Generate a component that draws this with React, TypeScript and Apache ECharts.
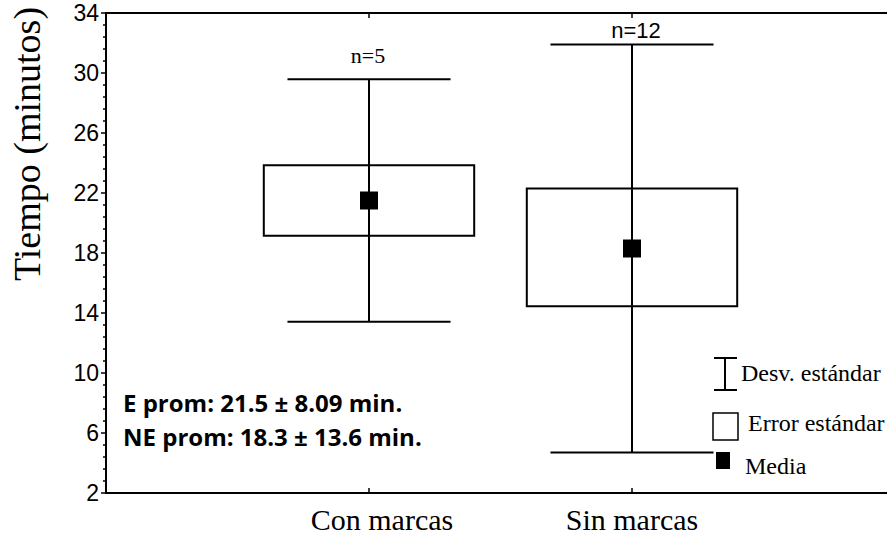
import React, { useEffect, useRef } from 'react';
import * as echarts from 'echarts';

// ---- data ----
const categories = ['Con marcas', 'Sin marcas'];
const means = [21.5, 18.3];
const sdLow = [13.41, 4.7];
const sdHigh = [29.59, 31.9];
const seLow = [19.15, 14.45];
const seHigh = [23.85, 22.3];
const nLabels = ['n=5', 'n=12'];
const yMin = 2;
const yMax = 34;
const yStep = 4;
const annotations = ['E prom: 21.5 \u00b1 8.09 min.', 'NE prom: 18.3 \u00b1 13.6 min.'];
const legendLabels = ['Desv. est\u00e1ndar', 'Error est\u00e1ndar', 'Media'];
const yTitle = 'Tiempo (minutos)';

// label styling per category (the reference uses different fonts for the n labels)
const nLabelFonts = ['Liberation Serif', 'Liberation Sans'];
const nLabelGap = [24, 14];
const nLabelDx = [-1, 4];
const catLabelShift = [26, 0];

const SERIF = 'Liberation Serif';
const SANS = 'Liberation Sans';
const INK = '#000000';

export default function App() {
  const ref = useRef<HTMLDivElement>(null);

  useEffect(() => {
    document.body.style.margin = '0';
    const chart = echarts.init(ref.current!, undefined, { renderer: 'svg' });

    const data = categories.map((c, i) => [i + 1, means[i], sdLow[i], sdHigh[i], seLow[i], seHigh[i], i]);

    const renderItem = (params: any, api: any) => {
      const x = api.value(0);
      const idx = api.value(6);
      const m = api.coord([x, api.value(1)]);
      const sl = api.coord([x, api.value(2)]);
      const sh = api.coord([x, api.value(3)]);
      const el = api.coord([x, api.value(4)]);
      const eh = api.coord([x, api.value(5)]);
      const unit = api.size([1, 0])[0];
      const boxHalf = unit * 0.4;
      const capHalf = unit * 0.31;
      const cx = m[0];
      const ls = { stroke: INK, lineWidth: 2 };
      return {
        type: 'group',
        children: [
          {
            type: 'rect',
            shape: { x: cx - boxHalf, y: eh[1], width: boxHalf * 2, height: el[1] - eh[1] },
            style: { fill: 'none', stroke: INK, lineWidth: 2 },
          },
          { type: 'line', shape: { x1: cx, y1: sh[1], x2: cx, y2: sl[1] }, style: ls },
          { type: 'line', shape: { x1: cx - capHalf, y1: sh[1], x2: cx + capHalf, y2: sh[1] }, style: ls },
          { type: 'line', shape: { x1: cx - capHalf, y1: sl[1], x2: cx + capHalf, y2: sl[1] }, style: ls },
          {
            type: 'rect',
            shape: { x: cx - 9, y: m[1] - 9, width: 18, height: 18 },
            style: { fill: INK },
          },
          {
            type: 'text',
            style: {
              text: nLabels[idx],
              x: cx + nLabelDx[idx],
              y: sh[1] - nLabelGap[idx],
              align: 'center',
              verticalAlign: 'middle',
              fontFamily: nLabelFonts[idx],
              fontSize: 22,
              fill: INK,
            },
          },
        ],
      };
    };

    const legendX = 712;
    const legendTextStyle = { fontFamily: SERIF, fontSize: 24, fill: INK, verticalAlign: 'middle' };

    chart.setOption({
      animation: false,
      backgroundColor: '#ffffff',
      grid: { show: false, left: 106, right: -8, top: 13, bottom: 56, containLabel: false, outerBoundsMode: 'none' },
      xAxis: [
        {
          type: 'value',
          min: 0,
          max: 3,
          interval: 1,
          axisLine: { show: true, onZero: false, lineStyle: { color: INK, width: 2 } },
          axisTick: { show: true, inside: true, length: 5, lineStyle: { color: INK, width: 1.5 } },
          axisLabel: {
            formatter: (v: number) => {
              const i = v - 1;
              if (i === 0) return '{a|' + categories[0] + '}';
              if (i === 1) return '{b|' + categories[1] + '}';
              return '';
            },
            rich: {
              a: { fontFamily: SERIF, fontSize: 30, color: INK, padding: [0, 0, 0, catLabelShift[0]] },
              b: { fontFamily: SERIF, fontSize: 30, color: INK, padding: [0, 0, 0, catLabelShift[1]] },
            },
            fontFamily: SERIF,
            fontSize: 30,
            color: INK,
            margin: 11,
          },
          splitLine: { show: false },
        },
        {
          type: 'value',
          position: 'top',
          min: 0,
          max: 3,
          interval: 1,
          axisLine: { show: true, onZero: false, lineStyle: { color: INK, width: 2 } },
          axisTick: { show: true, inside: true, length: 5, lineStyle: { color: INK, width: 1.5 } },
          axisLabel: { show: false },
          splitLine: { show: false },
        },
      ],
      yAxis: {
        type: 'value',
        min: yMin,
        max: yMax,
        interval: yStep,
        axisLine: { show: true, onZero: false, lineStyle: { color: INK, width: 2 } },
        axisTick: { show: true, length: 5, lineStyle: { color: INK, width: 1.5 } },
        minorTick: { show: true, splitNumber: 5, length: 3, lineStyle: { color: INK, width: 1.5 } },
        axisLabel: { fontFamily: SANS, fontSize: 23, color: INK, margin: 7 },
        splitLine: { show: false },
        minorSplitLine: { show: false },
      },
      series: [
        {
          type: 'custom',
          name: 'stats',
          clip: false,
          renderItem,
          data,
        },
      ],
      graphic: [
        {
          type: 'text',
          x: 27,
          y: 144,
          rotation: Math.PI / 2,
          style: {
            text: yTitle,
            fontFamily: SERIF,
            fontSize: 38,
            fill: INK,
            align: 'center',
            verticalAlign: 'middle',
          },
        },
        ...annotations.map((t, i) => ({
          type: 'text',
          x: 123,
          y: 402 + i * 34,
          style: {
            text: t,
            fontFamily: 'Open Sans',
            fontWeight: 'bold',
            fontSize: 24,
            fill: INK,
            verticalAlign: 'middle',
          },
        })),
        // legend: standard deviation symbol
        { type: 'line', shape: { x1: legendX + 13, y1: 358, x2: legendX + 13, y2: 390 }, style: { stroke: INK, lineWidth: 2 } },
        { type: 'line', shape: { x1: legendX + 2, y1: 358, x2: legendX + 25, y2: 358 }, style: { stroke: INK, lineWidth: 2 } },
        { type: 'line', shape: { x1: legendX + 2, y1: 390, x2: legendX + 25, y2: 390 }, style: { stroke: INK, lineWidth: 2 } },
        { type: 'text', x: 741, y: 373, style: { ...legendTextStyle, text: legendLabels[0] } },
        // legend: standard error symbol
        { type: 'rect', shape: { x: legendX + 1, y: 413, width: 25, height: 27 }, style: { fill: 'none', stroke: INK, lineWidth: 1.5 } },
        { type: 'text', x: 748, y: 423, style: { ...legendTextStyle, text: legendLabels[1] } },
        // legend: mean symbol
        { type: 'rect', shape: { x: legendX + 4, y: 452, width: 14, height: 17 }, style: { fill: INK } },
        { type: 'text', x: 745, y: 466, style: { ...legendTextStyle, text: legendLabels[2] } },
      ],
    });

    return () => chart.dispose();
  }, []);

  return <div ref={ref} style={{ width: 887, height: 549 }} />;
}
